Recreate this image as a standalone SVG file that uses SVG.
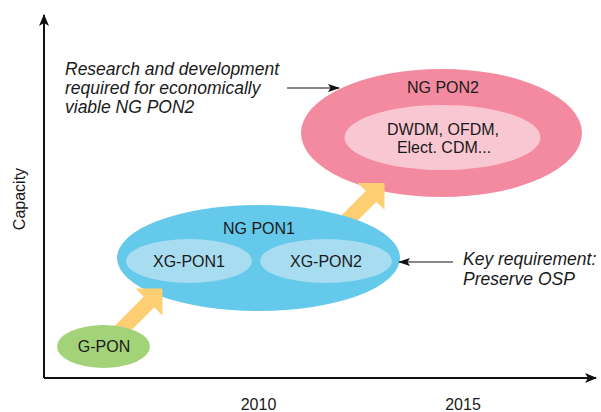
<svg xmlns="http://www.w3.org/2000/svg" width="601" height="412" viewBox="0 0 601 412">
<style>
  text { font-family: "Liberation Sans", Arial, sans-serif; fill: #1a1a1a; }
  .lbl { font-size: 16px; text-anchor: middle; }
  .note { font-size: 17.5px; font-style: italic; }
  .axis { stroke: #111; stroke-width: 2; fill: none; }
  .thin { stroke: #111; stroke-width: 1.2; fill: none; }
  .big { fill: #fdcf72; }
</style>
<defs>
  <marker id="ah" viewBox="0 0 12 10" refX="11" refY="5" markerWidth="12" markerHeight="10" markerUnits="userSpaceOnUse" orient="auto">
    <path d="M0,0 L12,5 L0,10 L3,5 Z" fill="#111"/>
  </marker>
  <marker id="ahs" viewBox="0 0 12 8" refX="11" refY="4" markerWidth="12" markerHeight="8" markerUnits="userSpaceOnUse" orient="auto">
    <path d="M0,0 L12,4 L0,8 L2.5,4 Z" fill="#111"/>
  </marker>
</defs>

<g id="axes">
  <line class="axis" x1="44" y1="378" x2="44" y2="15" marker-end="url(#ah)"/>
  <line class="axis" x1="44" y1="378" x2="596" y2="378" marker-end="url(#ah)"/>
  <text class="lbl" transform="translate(25,199) rotate(-90)">Capacity</text>
  <text class="lbl" x="258.5" y="410">2010</text>
  <text class="lbl" x="463" y="410">2015</text>
</g>

<g id="ngpon2">
  <ellipse cx="441.5" cy="133" rx="140.5" ry="64" fill="#f48aa0"/>
  <ellipse cx="442.5" cy="137.5" rx="98" ry="32.5" fill="#f9c7d1"/>
  <text class="lbl" x="443" y="93">NG PON2</text>
  <text class="lbl" x="443" y="135">DWDM, OFDM,</text>
  <text class="lbl" x="444" y="153">Elect. CDM...</text>
</g>

<g id="connectors">
  <polygon class="big" points="329.2,227.7 365.8,191.1 357.7,183 384.5,183 384.5,209.8 376.4,201.7 339.8,238.3"/>
</g>

<g id="ngpon1">
  <ellipse cx="258.5" cy="258" rx="141.5" ry="53" fill="#64c9ea"/>
  <text class="lbl" x="259" y="234">NG PON1</text>
</g>
<g id="xgpon1">
  <ellipse cx="189" cy="261" rx="63" ry="22" fill="#a8ddf1"/>
  <text class="lbl" x="189" y="267">XG-PON1</text>
</g>
<g id="xgpon2">
  <ellipse cx="326" cy="261" rx="66" ry="22" fill="#a8ddf1"/>
  <text class="lbl" x="326" y="267">XG-PON2</text>
</g>

<g id="connectors2">
  <polygon class="big" points="109.7,330.7 143.7,296.7 135.6,288.6 162.4,288.6 162.4,315.4 154.3,307.3 120.3,341.3"/>
</g>

<g id="gpon">
  <ellipse cx="103.5" cy="346.5" rx="46.5" ry="21.5" fill="#a3d379"/>
  <text class="lbl" x="104" y="352">G-PON</text>
</g>

<g id="note-rd">
  <text class="note" x="65" y="75">Research and development</text>
  <text class="note" x="65" y="94">required for economically</text>
  <text class="note" x="65" y="113">viable NG PON2</text>
  <line class="thin" x1="287" y1="88" x2="339" y2="88" marker-end="url(#ahs)"/>
</g>

<g id="note-key">
  <text class="note" x="463" y="265">Key requirement:</text>
  <text class="note" x="463" y="285">Preserve OSP</text>
  <line class="thin" x1="453" y1="262" x2="399" y2="262" marker-end="url(#ahs)"/>
</g>
</svg>
